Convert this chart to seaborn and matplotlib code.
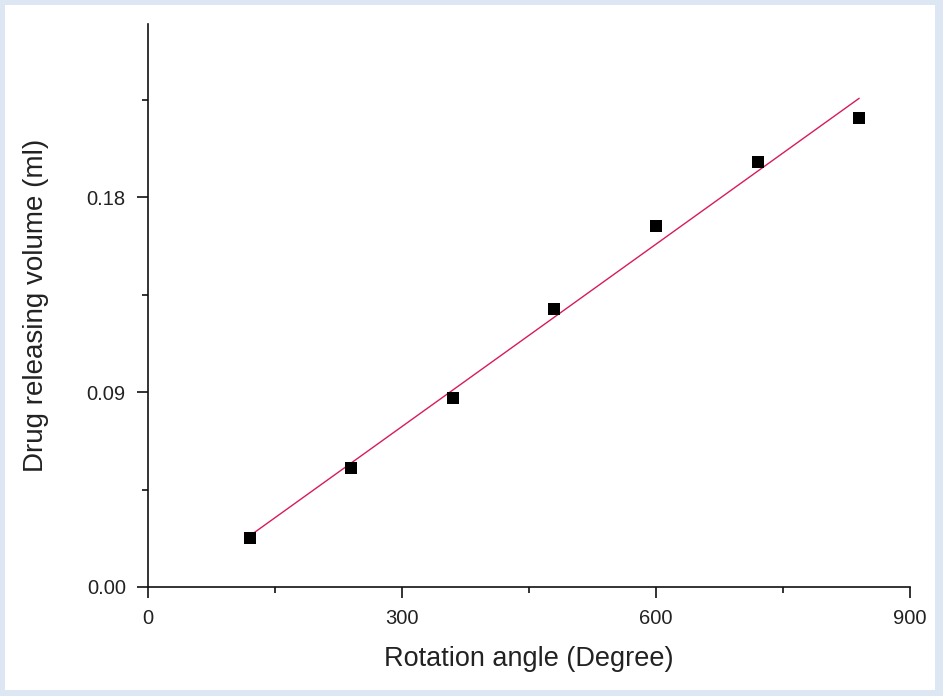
import numpy as np
import pandas as pd
import matplotlib
matplotlib.use("Agg")
import matplotlib.pyplot as plt
import seaborn as sns
from matplotlib.ticker import MultipleLocator
from matplotlib.patches import Rectangle

angle = [120, 240, 360, 480, 600, 720, 840]
volume = [0.0226, 0.0548, 0.0875, 0.1284, 0.1667, 0.1961, 0.2164]
x_ticks = [0, 300, 600, 900]
y_ticks = [0.00, 0.09, 0.18]
y_tick_labels = ["0.00", "0.09", "0.18"]

df = pd.DataFrame({"angle": angle, "volume": volume})

sns.set_style("ticks")
plt.rcParams["font.family"] = ["Liberation Sans", "DejaVu Sans"]

fig = plt.figure(figsize=(9.43, 6.96), dpi=100)
fig.patch.set_facecolor("#dde7f3")
fig.patches.append(Rectangle((5 / 943, 6 / 696), 930 / 943, 685 / 696,
                             transform=fig.transFigure, facecolor="white",
                             edgecolor="none", zorder=-10))

ax = fig.add_axes([148 / 943, 1 - 587 / 696, 762 / 943, 563 / 696])
ax.set_zorder(5)
ax.set_facecolor("white")

sns.regplot(data=df, x="angle", y="volume", ax=ax, scatter=False, ci=None,
            line_kws=dict(color="#d81b5a", lw=1.0))
sns.scatterplot(data=df, x="angle", y="volume", ax=ax, marker="s", s=70,
                color="black", edgecolor="black", linewidth=0, zorder=5)

ax.set_xlim(0, 900)
ax.set_ylim(0, 0.26)
ax.set_xticks(x_ticks)
ax.set_yticks(y_ticks)
ax.set_yticklabels(y_tick_labels)
ax.xaxis.set_minor_locator(MultipleLocator(150))
ax.yaxis.set_minor_locator(MultipleLocator(0.045))

for s in ["top", "right"]:
    ax.spines[s].set_visible(False)
for s in ["left", "bottom"]:
    ax.spines[s].set_linewidth(1.2)
    ax.spines[s].set_color("#111111")

ax.tick_params(which="major", direction="out", length=8, width=1.2,
               color="#111111", labelsize=14.5, labelcolor="#222222", pad=8)
ax.tick_params(which="minor", direction="out", length=4, width=1.2, color="#111111")

ax.set_xlabel("Rotation angle (Degree)", fontsize=19.5, color="#222222", labelpad=13)
ax.set_ylabel("Drug releasing volume (ml)", fontsize=20, color="#222222", labelpad=27)

fig.savefig("out.png", dpi=100, facecolor=fig.get_facecolor())
